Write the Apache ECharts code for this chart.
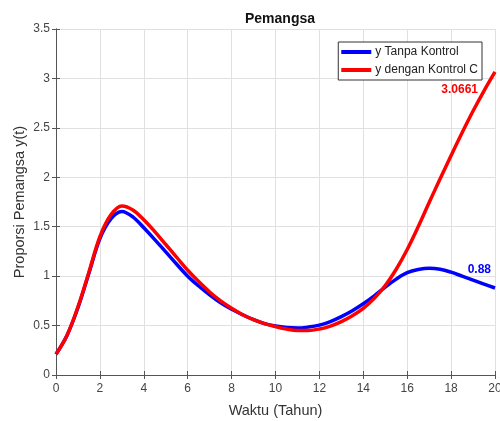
<!DOCTYPE html>
<html>
<head>
<meta charset="utf-8">
<script src="https://cdn.jsdelivr.net/npm/echarts@6/dist/echarts.min.js"></script>
<style>html,body{margin:0;padding:0;background:#fff}#c{width:500px;height:421px}</style>
</head>
<body>
<div id="c"></div>
<script>
var tahun = [0,0.5,1,1.5,2,2.5,3,3.5,4,4.5,5,5.5,6,6.5,7,7.5,8,8.5,9,9.5,10,10.5,11,11.5,12,12.5,13,13.5,14,14.5,15,15.5,16,16.5,17,17.5,18,18.5,19,19.5,20];
var tanpaKontrol = [0.21,0.40,0.68,1.03,1.38,1.58,1.655,1.60,1.49,1.37,1.245,1.12,1.00,0.90,0.81,0.73,0.665,0.61,0.56,0.52,0.495,0.48,0.475,0.485,0.505,0.54,0.59,0.65,0.72,0.80,0.89,0.97,1.035,1.067,1.08,1.07,1.04,1.0,0.96,0.92,0.88];
var denganKontrol = [0.21,0.40,0.69,1.04,1.40,1.62,1.71,1.67,1.57,1.45,1.32,1.19,1.06,0.945,0.84,0.75,0.675,0.61,0.56,0.52,0.49,0.465,0.45,0.45,0.465,0.495,0.54,0.60,0.675,0.775,0.905,1.07,1.27,1.50,1.745,1.985,2.22,2.45,2.67,2.875,3.0661];
var seriesNames = ['y Tanpa Kontrol', 'y dengan Kontrol C'];
var endLabels = ['0.88', '3.0661'];
var xTicks = [0,2,4,6,8,10,12,14,16,18,20];
var yTicks = [0,0.5,1,1.5,2,2.5,3,3.5];

var FONT = "'Liberation Sans', Arial, Helvetica, sans-serif";
function pairs(xs, ys){ return xs.map(function(x,i){ return [x, ys[i]]; }); }
var last = tahun.length - 1;
var axisCol = '#555';
var chart = echarts.init(document.getElementById('c'), null, {renderer:'canvas'});
chart.setOption({
  animation: false,
  backgroundColor: '#fff',
  textStyle: {fontFamily: FONT},
  title: {
    text: 'Pemangsa', left: 275, top: 7, textAlign: 'center',
    textStyle: {fontFamily: FONT, fontSize: 14, fontWeight: 'bold', color: '#111'}
  },
  legend: {
    orient: 'vertical', right: 18, top: 42,
    data: seriesNames,
    icon: 'rect', itemWidth: 30, itemHeight: 4, itemGap: 6,
    padding: [4, 4, 4, 3],
    borderColor: '#333', borderWidth: 1, backgroundColor: '#fff',
    textStyle: {fontFamily: FONT, fontSize: 12, color: '#222', padding: [0,0,0,-1]}
  },
  grid: {left: 56, right: 5, top: 29, bottom: 46, containLabel: false, outerBoundsMode: 'none'},
  xAxis: [{
    type: 'value', min: xTicks[0], max: xTicks[xTicks.length-1], interval: 2,
    name: 'Waktu (Tahun)', nameLocation: 'middle', nameGap: 28, nameMoveOverlap: false,
    nameTextStyle: {fontFamily: FONT, fontSize: 14.5, color: '#333'},
    axisLine: {show: true, lineStyle: {color: axisCol, width: 1}},
    axisTick: {show: true, inside: true, length: 4, lineStyle: {color: axisCol}},
    axisLabel: {fontFamily: FONT, fontSize: 12, color: '#444', margin: 8},
    splitLine: {show: true, lineStyle: {color: '#e0e0e0', width: 1}}
  }, {
    type: 'value', position: 'top', min: xTicks[0], max: xTicks[xTicks.length-1], interval: 2,
    axisLine: {show: true, lineStyle: {color: axisCol, width: 1}},
    axisTick: {show: true, inside: true, length: 4, lineStyle: {color: axisCol}},
    axisLabel: {show: false}, splitLine: {show: false}
  }],
  yAxis: [{
    type: 'value', min: yTicks[0], max: yTicks[yTicks.length-1], interval: 0.5,
    name: 'Proporsi Pemangsa y(t)', nameLocation: 'middle', nameGap: 29, nameMoveOverlap: false,
    nameTextStyle: {fontFamily: FONT, fontSize: 14.5, color: '#333'},
    axisLine: {show: true, lineStyle: {color: axisCol, width: 1}},
    axisTick: {show: true, inside: true, length: 4, lineStyle: {color: axisCol}},
    axisLabel: {fontFamily: FONT, fontSize: 12, color: '#444', margin: 6},
    splitLine: {show: true, lineStyle: {color: '#e0e0e0', width: 1}}
  }, {
    type: 'value', position: 'right', min: yTicks[0], max: yTicks[yTicks.length-1], interval: 0.5,
    axisLine: {show: true, lineStyle: {color: axisCol, width: 1}},
    axisTick: {show: true, inside: true, length: 4, lineStyle: {color: axisCol}},
    axisLabel: {show: false}, splitLine: {show: false}
  }],
  series: [{
    name: seriesNames[0], type: 'line', xAxisIndex: 0, yAxisIndex: 0,
    data: pairs(tahun, tanpaKontrol), smooth: 0.35, showSymbol: false, symbol: 'none',
    lineStyle: {color: '#0000ff', width: 3.5}, itemStyle: {color: '#0000ff'},
    markPoint: {
      symbol: 'circle', symbolSize: 0, silent: true,
      data: [{coord: [tahun[last], tanpaKontrol[last]]}],
      label: {show: true, formatter: endLabels[0], position: 'left', distance: 0, offset: [-4, -18],
        fontFamily: FONT, fontSize: 12, fontWeight: 'bold', color: '#0000ff'}
    }
  }, {
    name: seriesNames[1], type: 'line', xAxisIndex: 0, yAxisIndex: 0,
    data: pairs(tahun, denganKontrol), smooth: 0.35, showSymbol: false, symbol: 'none',
    lineStyle: {color: '#ff0000', width: 3.5}, itemStyle: {color: '#ff0000'},
    markPoint: {
      symbol: 'circle', symbolSize: 0, silent: true,
      data: [{coord: [tahun[last], denganKontrol[last]]}],
      label: {show: true, formatter: endLabels[1], position: 'left', distance: 0, offset: [-17, 18],
        fontFamily: FONT, fontSize: 12, fontWeight: 'bold', color: '#ff0000'}
    }
  }]
});
</script>
</body>
</html>
